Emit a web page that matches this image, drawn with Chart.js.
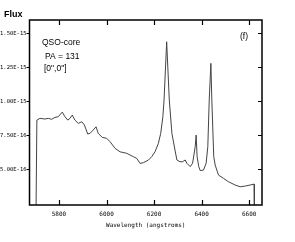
<!DOCTYPE html>
<html>
<head>
<meta charset="utf-8">
<script src="https://cdn.jsdelivr.net/npm/chart.js@4.4.1/dist/chart.umd.min.js"></script>
<style>
  html, body { margin: 0; padding: 0; background: #fff; }
  canvas { display: block; }
</style>
</head>
<body>
<canvas id="chart" width="295" height="242"></canvas>
<script>
// spectrum (wavelength in angstroms, flux)
const wavelengths = [
  5703, 5707, 5720, 5741, 5755, 5769, 5783, 5797, 5814, 5825, 5837, 5846,
  5856, 5867, 5881, 5896, 5907, 5921, 5931, 5944, 5956, 5965, 5982, 6001,
  6015, 6036, 6057, 6085, 6113, 6127, 6141, 6155, 6176, 6190, 6204, 6218,
  6228, 6237, 6242, 6253, 6264, 6275, 6288, 6296, 6309, 6320, 6331, 6338,
  6352, 6362, 6373, 6377, 6381, 6388, 6394, 6408, 6419, 6426, 6432, 6439,
  6443, 6451, 6457, 6471, 6492, 6513, 6541, 6562, 6583, 6604, 6621, 6622
];
const flux = [
  1.0e-16, 8.62e-16, 8.75e-16, 8.70e-16, 8.75e-16, 8.68e-16, 8.82e-16, 8.87e-16, 9.21e-16, 8.87e-16, 8.62e-16, 8.75e-16,
  8.99e-16, 8.62e-16, 8.38e-16, 8.50e-16, 8.26e-16, 7.60e-16, 7.65e-16, 7.89e-16, 8.13e-16, 7.65e-16, 7.35e-16, 7.28e-16,
  7.03e-16, 6.54e-16, 6.29e-16, 6.18e-16, 5.93e-16, 5.81e-16, 5.44e-16, 5.49e-16, 5.68e-16, 5.93e-16, 6.29e-16, 6.91e-16,
  7.65e-16, 8.87e-16, 1.010e-15, 1.438e-15, 1.010e-15, 7.65e-16, 6.42e-16, 5.69e-16, 5.56e-16, 5.56e-16, 5.69e-16, 5.45e-16,
  5.20e-16, 5.45e-16, 6.66e-16, 7.52e-16, 5.93e-16, 5.20e-16, 4.91e-16, 4.95e-16, 5.45e-16, 6.66e-16, 1.010e-15, 1.279e-15,
  1.010e-15, 5.93e-16, 5.32e-16, 4.58e-16, 4.34e-16, 4.09e-16, 3.85e-16, 3.72e-16, 3.77e-16, 3.85e-16, 3.92e-16, 1.0e-16
];

const xTicks = [5800, 6000, 6200, 6400, 6600];
const yTicks = [5e-16, 7.5e-16, 1e-15, 1.25e-15, 1.5e-15];
const yTickLabels = ["5.00E-16", "7.50E-16", "1.00E-15", "1.25E-15", "1.50E-15"];
const annotationLines = ["QSO-core", "PA = 131", "[0\",0\"]"];

const mono = "'DejaVu Sans Mono', monospace";
const sans = "'Liberation Sans', Arial, sans-serif";

// frame, inward ticks and the free text
const framePlugin = {
  id: "frame",
  afterDraw(chart) {
    const { ctx, chartArea: a, scales } = chart;
    ctx.save();
    ctx.strokeStyle = "#000";
    ctx.lineWidth = 1.5;
    ctx.strokeRect(a.left, a.top, a.right - a.left, a.bottom - a.top);
    ctx.lineWidth = 1.2;
    ctx.beginPath();
    xTicks.forEach(v => {
      const px = Math.round(scales.x.getPixelForValue(v)) + 0.5;
      ctx.moveTo(px, a.bottom); ctx.lineTo(px, a.bottom - 5);
      ctx.moveTo(px, a.top); ctx.lineTo(px, a.top + 5);
    });
    yTicks.forEach(v => {
      const py = Math.round(scales.y.getPixelForValue(v)) + 0.5;
      ctx.moveTo(a.left - 3, py); ctx.lineTo(a.left, py);
      ctx.moveTo(a.right, py); ctx.lineTo(a.right - 4, py);
    });
    ctx.stroke();

    ctx.fillStyle = "#000";
    ctx.textBaseline = "alphabetic";
    ctx.font = "bold 9px " + sans;
    ctx.fillText("Flux", 4, 17);
    ctx.font = "8.5px " + sans;
    ctx.fillText(annotationLines[0], 42, 45);
    ctx.fillText(annotationLines[1], 45, 59);
    ctx.fillText(annotationLines[2], 44, 71);
    ctx.fillText("(f)", 240, 39);
    ctx.restore();
  }
};

new Chart(document.getElementById("chart"), {
  type: "line",
  data: {
    datasets: [{
      data: wavelengths.map((w, i) => ({ x: w, y: flux[i] })),
      borderColor: "#444",
      borderWidth: 1,
      pointRadius: 0,
      tension: 0,
      fill: false
    }]
  },
  options: {
    responsive: false,
    animation: false,
    layout: { padding: { top: 20, right: 33, left: 0, bottom: 0 } },
    plugins: { legend: { display: false }, tooltip: { enabled: false } },
    scales: {
      x: {
        type: "linear",
        min: 5676,
        max: 6654,
        grid: { display: false, drawTicks: false },
        border: { display: false },
        afterBuildTicks: s => { s.ticks = xTicks.map(v => ({ value: v })); },
        afterFit: s => { s.height = 37; },
        ticks: {
          color: "#000",
          font: { family: mono, size: 6 },
          padding: 6,
          maxRotation: 0,
          callback: v => String(v)
        },
        title: {
          display: true,
          text: "Wavelength (angstroms)",
          color: "#000",
          font: { family: mono, size: 6 },
          padding: { top: 0, bottom: 13 }
        }
      },
      y: {
        min: 2.38e-16,
        max: 1.598e-15,
        grid: { display: false, drawTicks: false },
        border: { display: false },
        afterBuildTicks: s => { s.ticks = yTicks.map(v => ({ value: v })); },
        afterFit: s => { s.width = 29.5; },
        ticks: {
          color: "#000",
          font: { family: mono, size: 5.5 },
          padding: 3,
          callback: (v, i) => yTickLabels[i]
        }
      }
    }
  },
  plugins: [framePlugin]
});
</script>
</body>
</html>
